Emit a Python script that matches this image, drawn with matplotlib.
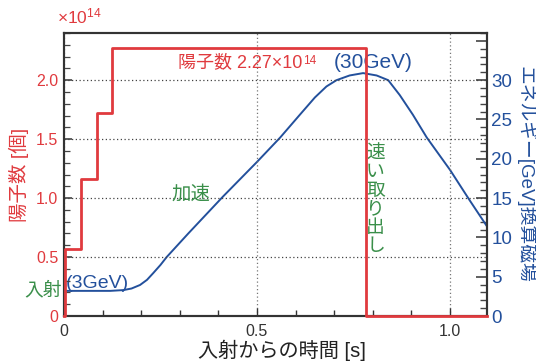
import matplotlib
matplotlib.use("Agg")
import matplotlib.pyplot as plt
from matplotlib.ticker import MultipleLocator

plt.rcParams['font.family'] = ['Liberation Sans', 'Noto Sans CJK JP']
plt.rcParams['mathtext.fontset'] = 'custom'
plt.rcParams['mathtext.rm'] = 'Liberation Sans'
plt.rcParams['mathtext.it'] = 'Liberation Sans:italic'

RED = '#e03a3e'
BLUE = '#23509c'
GREEN = '#3a8f4a'

# 陽子数 (×10^14) : 入射ごとの階段
step_t = [0.0, 0.003, 0.043, 0.085, 0.124, 0.782, 1.096]
protons = [0.0, 0.57, 1.16, 1.72, 2.27, 0.0, 0.0]

# エネルギー [GeV] の時間変化
energy_t = [0.0, 0.12, 0.154, 0.175, 0.197, 0.215, 0.231, 0.25, 0.266,
            0.322, 0.412, 0.50, 0.56, 0.611, 0.65, 0.68, 0.706, 0.74,
            0.775, 0.81, 0.84, 0.87, 0.904, 0.94, 1.00, 1.05, 1.096]
energy = [3.2, 3.2, 3.3, 3.5, 3.95, 4.6, 5.45, 6.5, 7.5,
          10.5, 15.2, 19.6, 22.7, 25.6, 27.8, 29.2, 30.0, 30.6,
          30.9, 30.6, 30.0, 28.1, 25.6, 22.7, 18.6, 14.8, 11.4]

fig = plt.figure(figsize=(5.36, 3.62), dpi=100)
ax = fig.add_axes([0.1194, 0.127, 0.7892, 0.7818])
ax2 = ax.twinx()
ax.set_zorder(ax2.get_zorder() + 1)
ax.patch.set_visible(False)

ax.set_xlim(0, 1.096)
ax.set_ylim(0, 2.4)
ax2.set_ylim(0, 36)

ax.grid(True, which='major', axis='y', ls=(0, (1, 2)), color='#444444', lw=0.9)
ax.grid(True, which='major', axis='x', ls=(0, (1, 2)), color='#777777', lw=0.9)
ax.step(step_t, protons, where='post', color=RED, lw=2.0, clip_on=False, zorder=5)
ax2.plot(energy_t, energy, color=BLUE, lw=1.4)

for a in (ax, ax2):
    for s in a.spines.values():
        s.set_color('#333333')
        s.set_linewidth(1.5)

ax.xaxis.set_minor_locator(MultipleLocator(0.1))
ax.yaxis.set_minor_locator(MultipleLocator(0.1))
ax2.yaxis.set_minor_locator(MultipleLocator(1))

ax.set_xticks([0, 0.5, 1.0])
ax.set_xticklabels(['0', '0.5', '1.0'])
ax.set_yticks([0, 0.5, 1.0, 1.5, 2.0])
ax.set_yticklabels(['0', '0.5', '1.0', '1.5', '2.0'])
ax2.set_yticks([0, 5, 10, 15, 20, 25, 30, 35])
ax2.set_yticklabels(['0', '5', '10', '15', '20', '25', '30', ''])

ax.tick_params(axis='x', which='both', direction='in', top=False,
               labelsize=11.5, colors='#333333', pad=6)
ax.tick_params(axis='x', which='major', length=6, width=1)
ax.tick_params(axis='x', which='minor', length=4, width=1)
ax.tick_params(axis='y', which='both', direction='in', right=False,
               labelsize=11.5, labelcolor=RED, color='#444444', pad=4)
ax.tick_params(axis='y', which='major', length=6, width=1.2)
ax.tick_params(axis='y', which='minor', length=4, width=0.9)
ax2.tick_params(axis='y', which='both', direction='in',
                labelsize=13.5, labelcolor=BLUE, color='#444444', pad=3)
ax2.tick_params(axis='y', which='major', length=8, width=1.2)
ax2.tick_params(axis='y', which='minor', length=5, width=1)

ax.set_xlabel('入射からの時間 [s]', fontsize=14.5, color='#222222')
ax.xaxis.set_label_coords(0.515, -0.085)
ax.set_ylabel('陽子数 [個]', fontsize=14, color=RED, labelpad=5)
ax2.set_ylabel('エネルギー[GeV]換算磁場', fontsize=13.5, color=BLUE,
               rotation=270, va='bottom', labelpad=2)

fig.text(0.106, 0.935, r'×10$^{14}$', color=RED, fontsize=12.5,
         ha='left', va='baseline')

label = ax.text(0.296, 2.15, '陽子数 2.27×10', color=RED, fontsize=13,
                ha='left', va='center')
ax.annotate('14', xy=(1, 0.92), xycoords=label, color=RED, fontsize=8.5,
            ha='left', va='top', xytext=(0.5, 0), textcoords='offset points')
ax2.text(0.70, 32.2, '(30GeV)', color=BLUE, fontsize=15, ha='left', va='center')
ax2.text(0.004, 4.1, '(3GeV)', color=BLUE, fontsize=14, ha='left', va='center')
ax.text(-0.005, 0.22, '入射', color=GREEN, fontsize=13.5, ha='right',
        va='center', clip_on=False)
ax.text(0.33, 1.03, '加速', color=GREEN, fontsize=14, ha='center', va='center')
ax.text(0.807, 0.98, '\n'.join('速い取り出し'), color=GREEN, fontsize=13.5,
        ha='center', va='center', linespacing=1.12)

fig.savefig('out.png', dpi=100)
